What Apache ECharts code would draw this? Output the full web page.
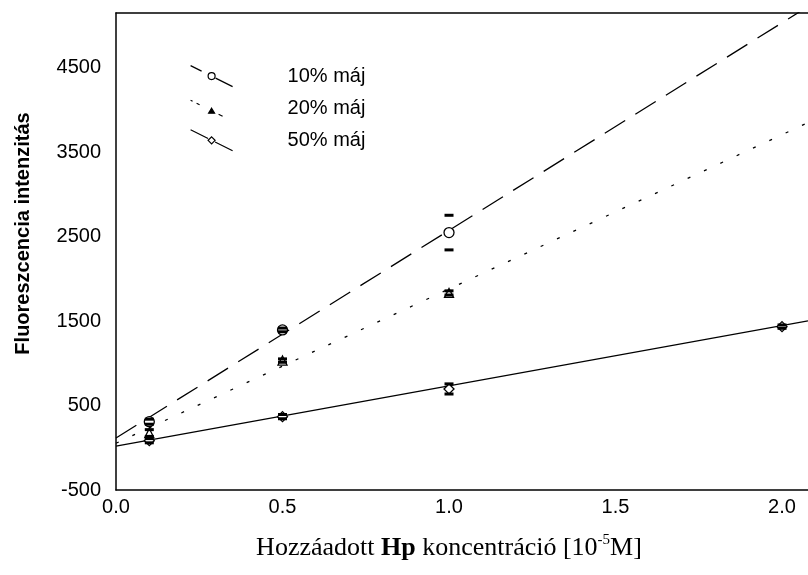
<!DOCTYPE html>
<html>
<head>
<meta charset="utf-8">
<script src="https://cdn.jsdelivr.net/npm/echarts@6/dist/echarts.min.js"></script>
<style>html,body{margin:0;padding:0;background:#fff}#c{width:808px;height:575px}</style>
</head>
<body>
<div id="c"></div>
<script>
// Data
const seriesNames = ['10% máj', '20% máj', '50% máj'];
const x10 = [0.1, 0.5, 1.0];
const y10 = [309, 1396, 2549];
const err10 = [30, 22, 205];
const x20 = [0.1, 0.5, 1.0];
const y20 = [175, 1033, 1834];
const err20 = [40, 20, 25];
const x50 = [0.1, 0.5, 1.0, 2.0];
const y50 = [84, 369, 697, 1435];
const err50 = [25, 25, 60, 20];
// regression lines (end points)
const fit10 = [[0, 116], [2.078, 5226]];
const fit20 = [[0, 54], [2.078, 3851]];
const fit50 = [[0, 21], [2.078, 1503]];
const xTicks = [0.0, 0.5, 1.0, 1.5, 2.0];
const yTicks = [-500, 500, 1500, 2500, 3500, 4500];

const pts = (xs, ys) => xs.map((x, i) => [x, ys[i]]);
const caps = (xs, ys, es) => xs.flatMap((x, i) => [[x, ys[i] + es[i]], [x, ys[i] - es[i]]]);

const icon10 = 'path://M0,0 L11,5.5 M24.5,10.5 A3.5,3.5 0 1 1 17.5,10.5 A3.5,3.5 0 1 1 24.5,10.5 Z M25,12.5 L42,21 M92,10.5';
const icon20 = 'path://M0,0 L2,1 M6,3 L9,4.5 M21,8 L24,13 L18,13 Z M28,14 L32,16 M92,10.5';
const icon50 = 'path://M0,0 L17.5,8.75 M21,7 L24.5,10.5 L21,14 L17.5,10.5 Z M24.5,12.25 L42,21 M92,10.5';

const chart = echarts.init(document.getElementById('c'));
const fontSans = 'Liberation Sans, Arial, sans-serif';
const fontSerif = 'Liberation Serif, Times New Roman, serif';
chart.setOption({
  animation: false,
  backgroundColor: '#fff',
  grid: { left: 116, right: 0, top: 13, bottom: 85, containLabel: false },
  legend: {
    orient: 'vertical', left: 185, top: 60, itemWidth: 92, itemHeight: 21, itemGap: 11,
    selectedMode: false,
    textStyle: { fontFamily: fontSans, fontSize: 20, color: '#000' },
    data: [
      { name: seriesNames[0], icon: icon10, itemStyle: { color: 'rgba(0,0,0,0)', borderColor: '#000', borderWidth: 1.2 } },
      { name: seriesNames[1], icon: icon20, itemStyle: { color: '#000', borderColor: '#000', borderWidth: 1.2 } },
      { name: seriesNames[2], icon: icon50, itemStyle: { color: 'rgba(0,0,0,0)', borderColor: '#000', borderWidth: 1.2 } }
    ]
  },
  xAxis: [{
    type: 'value', min: 0, max: 2.078, interval: 0.5,
    axisLine: { show: true, onZero: false, lineStyle: { color: '#000', width: 1.5 } },
    axisTick: { show: false }, splitLine: { show: false },
    axisLabel: { showMaxLabel: false, margin: 7, fontFamily: fontSans, fontSize: 20, color: '#000',
      formatter: v => xTicks.some(t => Math.abs(t - v) < 1e-9) ? v.toFixed(1) : '' },
    name: '{a|Hozzáadott }{b|Hp}{a| koncentráció [10}{s|-5}{a|M]}',
    nameLocation: 'middle', nameGap: 43,
    nameTextStyle: { padding: [0, 26, 0, 0],
      rich: {
        a: { fontFamily: fontSerif, fontSize: 26, color: '#000', lineHeight: 30 },
        b: { fontFamily: fontSerif, fontSize: 26, fontWeight: 'bold', color: '#000', lineHeight: 30 },
        s: { fontFamily: fontSerif, fontSize: 15, color: '#000', verticalAlign: 'top', lineHeight: 18 }
      } }
  }, {
    type: 'value', position: 'top', min: 0, max: 2.078,
    axisLine: { show: true, onZero: false, lineStyle: { color: '#000', width: 1.5 } },
    axisTick: { show: false }, splitLine: { show: false }, axisLabel: { show: false }
  }],
  yAxis: {
    type: 'value', min: -500, max: 5150, interval: 1000,
    axisLine: { show: true, onZero: false, lineStyle: { color: '#000', width: 1.5 } },
    axisTick: { show: false }, splitLine: { show: false },
    axisLabel: { showMaxLabel: false, margin: 15, fontFamily: fontSans, fontSize: 20, color: '#000',
      formatter: v => yTicks.includes(v) ? String(v) : '' },
    name: 'Fluoreszcencia intenzitás', nameLocation: 'middle', nameGap: 83, nameRotate: 90,
    nameTextStyle: { fontFamily: fontSans, fontSize: 20, fontWeight: 'bold', color: '#000', padding: [0, 0, 0, 36] }
  },
  series: [
    { name: 'fit10', type: 'line', data: fit10, symbol: 'none', silent: true, z: 2,
      lineStyle: { color: '#000', width: 1.3, type: [24, 12] } },
    { name: 'fit20', type: 'line', data: fit20, symbol: 'none', silent: true, z: 2,
      lineStyle: { color: '#000', width: 1.3, type: [3, 15] } },
    { name: 'fit50', type: 'line', data: fit50, symbol: 'none', silent: true, z: 2,
      lineStyle: { color: '#000', width: 1.3, type: 'solid' } },
    { name: seriesNames[0], type: 'scatter', data: pts(x10, y10), symbol: 'circle', symbolSize: 10, z: 3,
      itemStyle: { color: '#fff', borderColor: '#000', borderWidth: 1.3, opacity: 1 } },
    { name: seriesNames[1], type: 'scatter', data: pts(x20, y20), symbol: 'triangle', symbolSize: 9, z: 3,
      itemStyle: { color: '#fff', borderColor: '#000', borderWidth: 1.3, opacity: 1 } },
    { name: seriesNames[2], type: 'scatter', data: pts(x50, y50), symbol: 'diamond', symbolSize: 10, z: 3,
      itemStyle: { color: '#fff', borderColor: '#000', borderWidth: 1.3, opacity: 1 } },
    { name: 'cap10', type: 'scatter', data: caps(x10, y10, err10), symbol: 'rect', symbolSize: [9, 3], z: 4,
      itemStyle: { color: '#000', opacity: 1 }, silent: true },
    { name: 'cap20', type: 'scatter', data: caps(x20, y20, err20), symbol: 'rect', symbolSize: [9, 3], z: 4,
      itemStyle: { color: '#000', opacity: 1 }, silent: true },
    { name: 'cap50', type: 'scatter', data: caps(x50, y50, err50), symbol: 'rect', symbolSize: [9, 3], z: 4,
      itemStyle: { color: '#000', opacity: 1 }, silent: true }
  ]
});
</script>
</body>
</html>
